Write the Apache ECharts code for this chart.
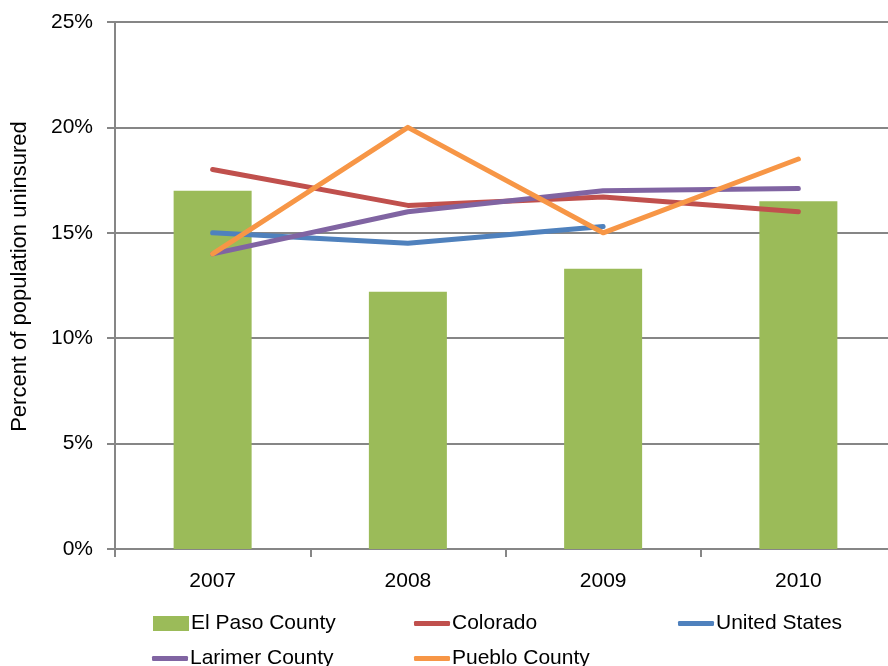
<!DOCTYPE html>
<html>
<head>
<meta charset="utf-8">
<script src="https://cdn.jsdelivr.net/npm/echarts@6/dist/echarts.min.js"></script>
<style>
  html, body { margin: 0; padding: 0; background: #fff; }
  #chart { width: 888px; height: 666px; }
</style>
</head>
<body>
<div id="chart"></div>
<script>
// Uninsured share of the population, by year (percent)
const years = ['2007', '2008', '2009', '2010'];
const elPasoCounty = [17.0, 12.2, 13.3, 16.5];
const colorado = [18.0, 16.3, 16.7, 16.0];
const unitedStates = [15.0, 14.5, 15.3, null];
const larimerCounty = [14.0, 16.0, 17.0, 17.1];
const puebloCounty = [14.0, 20.0, 15.0, 18.5];

const FONT = '"Liberation Sans", Arial, sans-serif';
const GRAY = '#868686';

function lineSeries(name, data, color) {
  return {
    name: name,
    type: 'line',
    data: data,
    symbol: 'none',
    showSymbol: false,
    smooth: false,
    connectNulls: false,
    lineStyle: { color: color, width: 5, cap: 'round', join: 'round' },
    itemStyle: { color: color },
    z: 3
  };
}

function legendAt(name, icon, left, top, h) {
  return {
    data: [{ name: name, icon: icon }],
    left: left,
    top: top,
    itemWidth: 36,
    itemHeight: h,
    itemGap: 0,
    selectedMode: false,
    padding: 0,
    textStyle: { fontFamily: FONT, fontSize: 21, color: '#000', padding: [0, 0, 0, -3] }
  };
}

const chart = echarts.init(document.getElementById('chart'), null, { renderer: 'canvas' });
chart.setOption({
  animation: false,
  backgroundColor: '#fff',
  grid: { left: 115, top: 22, bottom: 117, right: -8, containLabel: false, outerBoundsMode: 'none' },
  xAxis: {
    type: 'category',
    data: years,
    boundaryGap: true,
    axisLine: { show: true, lineStyle: { color: GRAY, width: 2 } },
    axisTick: { show: true, length: 8, inside: false, lineStyle: { color: GRAY, width: 2 } },
    axisLabel: { fontFamily: FONT, fontSize: 21, color: '#000', margin: 22 },
    splitLine: { show: false }
  },
  yAxis: {
    type: 'value',
    min: 0,
    max: 25,
    interval: 5,
    name: 'Percent of population uninsured',
    nameLocation: 'middle',
    nameGap: 84,
    nameRotate: 90,
    nameTextStyle: { fontFamily: FONT, fontSize: 22, color: '#000', padding: [0, 0, 0, 18] },
    axisLine: { show: true, lineStyle: { color: GRAY, width: 2 } },
    axisTick: { show: true, length: 8, inside: false, lineStyle: { color: GRAY, width: 2 } },
    axisLabel: { fontFamily: FONT, fontSize: 21, color: '#000', margin: 22, formatter: v => v + '%' },
    splitLine: { show: true, lineStyle: { color: GRAY, width: 2 } }
  },
  legend: [
    legendAt('El Paso County', 'rect', 153, 613, 15),
    legendAt('Colorado', 'roundRect', 414, 613, 5),
    legendAt('United States', 'roundRect', 678, 613, 5),
    legendAt('Larimer County', 'roundRect', 152, 648, 5),
    legendAt('Pueblo County', 'roundRect', 414, 648, 5)
  ],
  series: [
    {
      name: 'El Paso County',
      type: 'bar',
      data: elPasoCounty,
      barWidth: 78,
      itemStyle: { color: '#9BBB59' },
      z: 2
    },
    lineSeries('Colorado', colorado, '#C0504D'),
    lineSeries('United States', unitedStates, '#4F81BD'),
    lineSeries('Larimer County', larimerCounty, '#8064A2'),
    lineSeries('Pueblo County', puebloCounty, '#F79646')
  ]
});
</script>
</body>
</html>
